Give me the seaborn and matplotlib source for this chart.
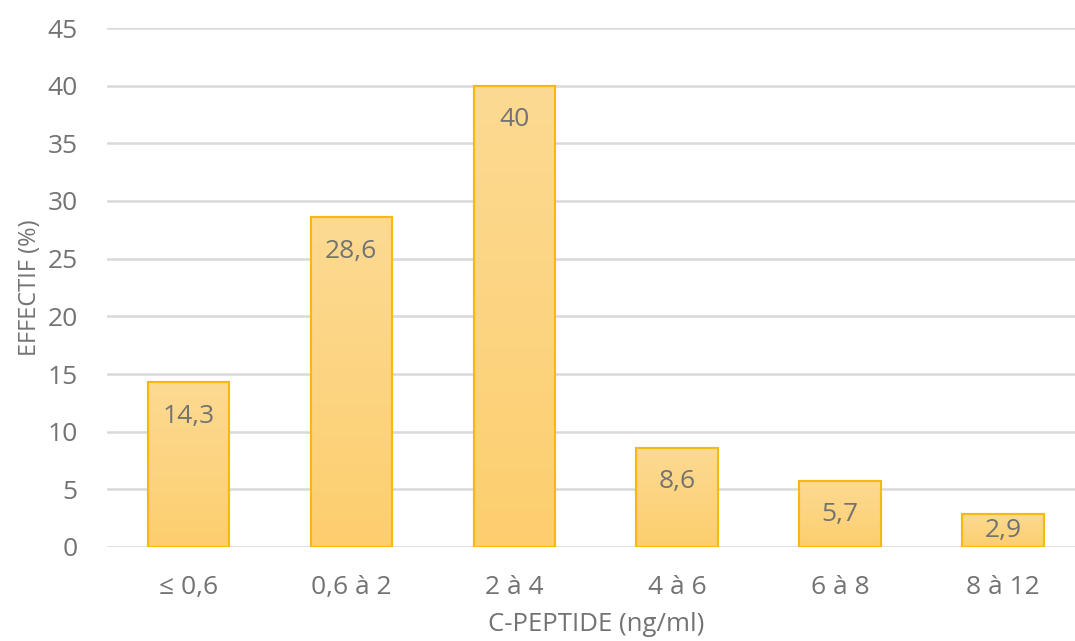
import numpy as np
import pandas as pd
import matplotlib
matplotlib.use("Agg")
import matplotlib.pyplot as plt
import seaborn as sns
from matplotlib.colors import LinearSegmentedColormap

categories = ["≤ 0,6", "0,6 à 2", "2 à 4", "4 à 6", "6 à 8", "8 à 12"]
values = [14.3, 28.6, 40, 8.6, 5.7, 2.9]
labels = ["14,3", "28,6", "40", "8,6", "5,7", "2,9"]
yticks = [0, 5, 10, 15, 20, 25, 30, 35, 40, 45]

sns.set_theme(style="white")
plt.rcParams['font.family'] = ['Open Sans', 'DejaVu Sans']

txt = "#737373"
df = pd.DataFrame({"cat": categories, "val": values})

fig = plt.figure(figsize=(10.75, 6.41), dpi=100)
ax = fig.add_axes([107 / 1075, 94 / 641, 977.5 / 1075, 519 / 641])

sns.barplot(data=df, x="cat", y="val", ax=ax, width=0.5,
            color="#FCD47F", edgecolor="#F4BA12", linewidth=1.5, zorder=3)

cmap = LinearSegmentedColormap.from_list("g", ["#FCCE6E", "#FDDA93"])
grad = np.linspace(0, 1, 256).reshape(-1, 1)
for p, lab in zip(ax.patches, labels):
    x0, y0 = p.get_x(), p.get_y()
    w, h = p.get_width(), p.get_height()
    im = ax.imshow(grad, cmap=cmap, origin="lower", aspect="auto",
                   extent=[x0, x0 + w, y0, y0 + h], zorder=3.5)
    im.set_clip_path(p)
    ax.add_patch(plt.Rectangle((x0, y0), w, h, fill=False,
                               edgecolor="#F4BA12", linewidth=1.5, zorder=4))
    ypos = max(h - 2.95, h / 2)
    ax.text(x0 + w / 2, ypos, lab, ha="center", va="center",
            fontsize=19, color=txt, zorder=5)

ax.set_xlim(-0.5, 5.5)
ax.set_ylim(0, 45)
ax.set_yticks(yticks)
ax.set_yticklabels([str(t) for t in yticks])
ax.yaxis.grid(True, color="#D9D9D9", linewidth=1.8, zorder=0)
ax.set_axisbelow(True)
for s in ax.spines.values():
    s.set_visible(False)
ax.tick_params(axis="both", length=0, labelsize=19, colors=txt)
ax.tick_params(axis="y", pad=21)
ax.tick_params(axis="x", pad=20)
ax.set_xlabel("C-PEPTIDE (ng/ml)", fontsize=18.5, color=txt, labelpad=9)
ax.set_ylabel("EFFECTIF (%)", fontsize=17, color=txt, labelpad=4)

fig.savefig("out.png", dpi=100)
